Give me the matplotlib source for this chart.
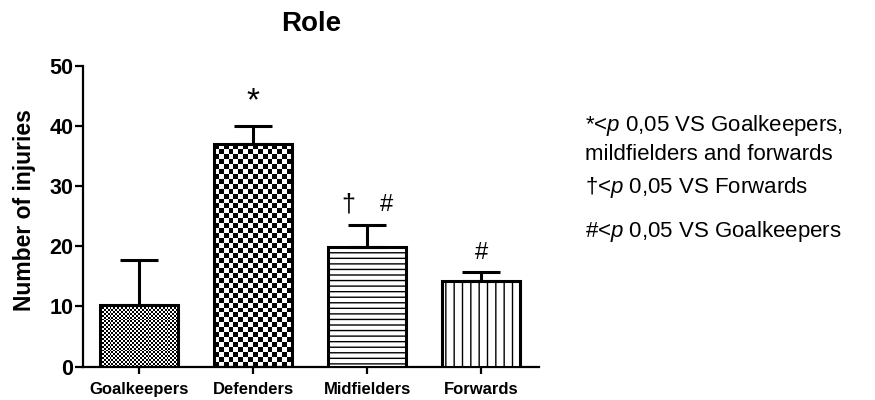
"""
Role chart: number of injuries per playing role, bars with one-sided SD error bars
"""

import numpy as np
import matplotlib
matplotlib.use('Agg')
import matplotlib.pyplot as plt

plt.rcParams['font.family'] = ['Liberation Sans', 'DejaVu Sans']
plt.rcParams['mathtext.fontset'] = 'custom'
plt.rcParams['mathtext.rm'] = 'Liberation Sans'
plt.rcParams['mathtext.it'] = 'Liberation Sans:italic'
plt.rcParams['hatch.linewidth'] = 1.0
plt.rcParams['hatch.color'] = 'black'

# data
roles = ['Goalkeepers', 'Defenders', 'Midfielders', 'Forwards']
injuries = [10.25, 37.0, 19.9, 14.3]
sd_upper = [7.55, 2.9, 3.6, 1.5]

# significance marks above bars
mark_text = ['*', '\u2020', '#', '#']
mark_x = [1.0, 1.83, 2.17, 3.0]
mark_y = [44.0, 26.9, 26.9, 18.9]
mark_size = [24, 18, 17, 17]

notes = [r'*<$\mathit{p}$ 0,05 VS Goalkeepers,',
         'mildfielders and forwards',
         '\u2020<' + r'$\mathit{p}$ 0,05 VS Forwards',
         r'#<$\mathit{p}$ 0,05 VS Goalkeepers']

f = plt.figure(figsize=(8.75, 4), dpi=100)
ax = f.add_axes([0.0952, 0.0833, 0.5211, 0.7525])

x = np.arange(len(roles))
w = 0.68

#bars: gk and defenders get a checker texture, the other two plain hatches
faces = ['none', 'none', 'white', 'white']
hatches = [None, None, '---', '||']
bars = ax.bar(x, injuries, width=w, facecolor='white', edgecolor='black',
              linewidth=2.2, zorder=3)
for b, fc, h in zip(bars, faces, hatches):
    b.set_facecolor(fc)
    if h:
        b.set_hatch(h)

ax.set_xlim(-0.49, 3.51)
ax.set_ylim(0, 50)

#checker texture, clipped to the bar outline
def checker(bar, cell_px):
    x0, y0 = bar.get_x(), bar.get_y()
    x1, y1 = x0 + bar.get_width(), y0 + bar.get_height()
    p0 = ax.transData.transform((x0, y0))
    p1 = ax.transData.transform((x1, y1))
    nx = max(1, int(round((p1[0] - p0[0]) / cell_px)))
    ny = max(1, int(round((p1[1] - p0[1]) / cell_px)))
    ii, jj = np.indices((ny, nx))
    tex = ((ii + jj) % 2).astype(float)
    im = ax.imshow(tex, cmap='gray', extent=(x0, x1, y0, y1), aspect='auto',
                   interpolation='nearest', vmin=0, vmax=1, zorder=2)
    im.set_clip_path(bar)

checker(bars[0], 1.9)
checker(bars[1], 5.0)

ax.set_xlim(-0.49, 3.51)
ax.set_ylim(0, 50)

#error bars, upper side only
ax.errorbar(x, injuries, yerr=[np.zeros(len(x)), sd_upper], fmt='none',
            ecolor='black', elinewidth=2.2, capsize=14, capthick=2.2, zorder=4)

for t, mx, my, ms in zip(mark_text, mark_x, mark_y, mark_size):
    ax.text(mx, my, t, ha='center', va='center', fontsize=ms)

#axes styling
for s in ['top', 'right']:
    ax.spines[s].set_visible(False)
for s in ['left', 'bottom']:
    ax.spines[s].set_linewidth(1.6)

ax.set_xticks(x)
ax.set_xticklabels(roles, fontsize=12, fontweight='bold')
ax.set_yticks([0, 10, 20, 30, 40, 50])
ax.tick_params(axis='y', labelsize=15.5, length=6, width=1.6, pad=1)
ax.tick_params(axis='x', length=5, width=1.6, pad=6)
for lbl in ax.get_yticklabels():
    lbl.set_fontweight('bold')

ax.set_ylabel('Number of injuries', fontsize=16.5, fontweight='bold')
ax.yaxis.set_label_coords(-0.104, 0.52)
ax.set_title('Role', fontsize=20, fontweight='bold', pad=25)

#notes on the right
note_y = [0.6875, 0.6125, 0.53, 0.42]
for t, ny in zip(notes, note_y):
    f.text(0.6686, ny, t, fontsize=16, va='center', ha='left')

f.savefig('out.png', dpi=100)
